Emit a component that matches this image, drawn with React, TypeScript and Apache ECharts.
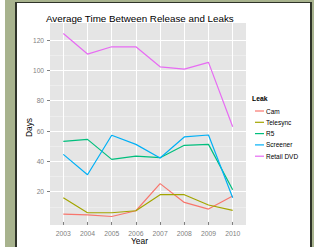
import React, { useEffect, useRef } from "react";
import * as echarts from "echarts";

const years = [2003, 2004, 2005, 2006, 2007, 2008, 2009, 2010];
const leakTypes = ["Cam", "Telesync", "R5", "Screener", "Retail DVD"];
const cam = [5.2, 4.7, 3.6, 7.4, 25.3, 12.9, 8.5, 17.1];
const telesync = [16.0, 6.1, 6.1, 7.4, 18.0, 18.0, 11.2, 7.6];
const r5 = [53.2, 54.5, 41.3, 43.5, 42.4, 50.6, 51.2, 21.3];
const screener = [44.6, 31.2, 57.2, 51.2, 42.2, 56.1, 57.4, 16.0];
const retailDvd = [124.4, 110.8, 115.6, 115.6, 102.4, 100.9, 105.3, 62.8];
const yTicks = [20, 40, 60, 80, 100, 120];
const yMinorTicks = [10, 30, 50, 70, 90, 110];
const seriesValues = [cam, telesync, r5, screener, retailDvd];
const colors = ["#F8766D", "#A3A500", "#00BF7D", "#00B0F6", "#E76BF3"];

const FONT = "'Liberation Sans', Arial, Helvetica, sans-serif";

export default function App() {
  const ref = useRef<HTMLDivElement>(null);
  useEffect(() => {
    if (!ref.current) return;
    const chart = echarts.init(ref.current, undefined, { renderer: "svg" });
    const legendTop = 111;
    const legendStep = 11.3;
    const legendGraphics: any[] = [
      {
        type: "text",
        x: 252,
        y: 98.5,
        style: {
          text: "Leak",
          align: "left",
          verticalAlign: "middle",
          fontFamily: FONT,
          fontSize: 6.8,
          fontWeight: "bold",
          fill: "#000",
        },
      },
    ];
    leakTypes.forEach((name, i) => {
      const y = legendTop + i * legendStep;
      legendGraphics.push({
        type: "line",
        shape: { x1: 255, y1: y, x2: 264, y2: y },
        style: { stroke: colors[i], lineWidth: 1.2 },
      });
      legendGraphics.push({
        type: "text",
        x: 266,
        y: y,
        style: {
          text: name,
          align: "left",
          verticalAlign: "middle",
          fontFamily: FONT,
          fontSize: 6.5,
          fill: "#000",
        },
      });
    });
    chart.setOption({
      animation: false,
      backgroundColor: "transparent",
      grid: {
        left: 50,
        top: 23,
        width: 196,
        height: 202,
        show: true,
        backgroundColor: "#E5E5E5",
        borderWidth: 0,
        containLabel: false,
      },
      xAxis: {
        type: "value",
        min: 2002.45,
        max: 2010.55,
        axisLine: { show: false },
        axisTick: {
          show: true,
          customValues: years,
          length: 3,
          lineStyle: { color: "#7F7F7F", width: 1 },
        },
        axisLabel: {
          customValues: years,
          fontSize: 6.8,
          color: "#7F7F7F",
          fontFamily: FONT,
          margin: 5,
          lineHeight: 7,
          formatter: (v: number) => String(v),
        },
        splitLine: { show: true, lineStyle: { color: "#FFFFFF", width: 1 } },
      },
      yAxis: [
        {
          type: "value",
          min: -2,
          max: 131.3,
          axisLine: { show: false },
          axisTick: {
            show: true,
            customValues: yTicks,
            length: 3,
            lineStyle: { color: "#7F7F7F", width: 1 },
          },
          axisLabel: {
            customValues: yTicks,
            fontSize: 6.6,
            color: "#7F7F7F",
            fontFamily: FONT,
            margin: 6,
          },
          splitLine: { show: true, lineStyle: { color: "#FFFFFF", width: 1 } },
        },
        {
          type: "value",
          min: -2,
          max: 131.3,
          position: "left",
          axisLine: { show: false },
          axisTick: { show: false, customValues: yMinorTicks },
          axisLabel: { show: false, customValues: yMinorTicks },
          splitLine: { show: true, lineStyle: { color: "#F2F2F2", width: 0.6 } },
        },
      ],
      graphic: [
        {
          type: "text",
          x: 46,
          y: 18,
          style: {
            text: "Average Time Between Release and Leaks",
            align: "left",
            verticalAlign: "middle",
            fontFamily: FONT,
            fontSize: 9.8,
            fill: "#000",
          },
        },
        {
          type: "text",
          x: 139.5,
          y: 241,
          style: {
            text: "Year",
            align: "center",
            verticalAlign: "middle",
            fontFamily: FONT,
            fontSize: 8.4,
            lineHeight: 8.4,
            fill: "#000",
          },
        },
        {
          type: "text",
          x: 29,
          y: 127.5,
          rotation: Math.PI / 2,
          style: {
            text: "Days",
            align: "center",
            verticalAlign: "middle",
            fontFamily: FONT,
            fontSize: 8.4,
            fill: "#000",
          },
        },
        ...legendGraphics,
      ],
      series: leakTypes.map((name, i) => ({
        name,
        type: "line",
        yAxisIndex: 0,
        symbol: "none",
        color: colors[i],
        lineStyle: { color: colors[i], width: 1.2 },
        data: years.map((yr, j) => [yr, seriesValues[i][j]]),
        z: 3 + i,
      })),
    });
    return () => chart.dispose();
  }, []);

  const green = "#A8B38E";
  const dark = "#2F3329";
  return (
    <div style={{ position: "fixed", left: 0, top: 0, width: 314, height: 247, background: "#FFFFFF", overflow: "hidden" }}>
      <div style={{ position: "absolute", left: 5, top: 0, width: 10, height: 247, background: green }} />
      <div style={{ position: "absolute", left: 5, top: 0, width: 309, height: 2, background: green }} />
      <div style={{ position: "absolute", left: 312, top: 0, width: 2, height: 247, background: green }} />
      <div style={{ position: "absolute", left: 15, top: 2, width: 2, height: 245, background: dark }} />
      <div style={{ position: "absolute", left: 15, top: 2, width: 297, height: 1, background: dark }} />
      <div style={{ position: "absolute", left: 310, top: 2, width: 2, height: 245, background: dark }} />
      <div ref={ref} style={{ position: "absolute", left: 0, top: 0, width: 314, height: 247 }} />
    </div>
  );
}
